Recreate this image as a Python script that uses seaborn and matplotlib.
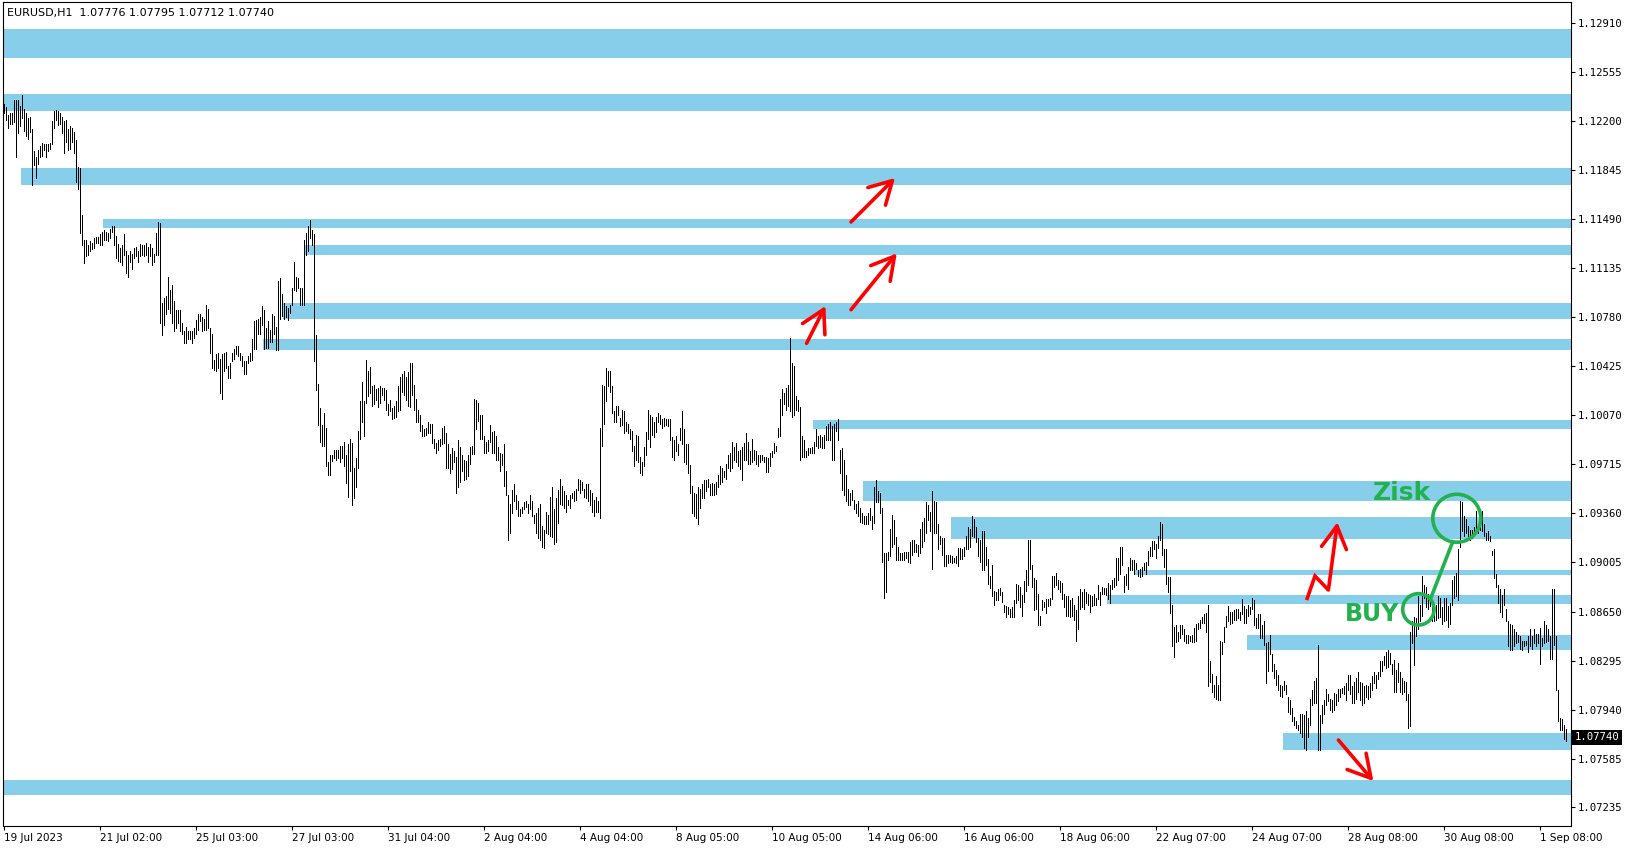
import numpy as np
import pandas as pd
import seaborn as sns
import matplotlib.pyplot as plt
from matplotlib.patches import Ellipse

# EURUSD H1 bars (19 Jul - 1 Sep 2023)
# stored as pips above 1.0700 -> price = 1.07 + pips / 10000
high_pips = [
    532, 530, 524, 526, 526, 535, 535, 535, 531, 539,
    529, 526, 522, 523, 514, 498, 494, 499, 502, 504,
    503, 503, 503, 504, 520, 527, 528, 527, 526, 523,
    520, 521, 514, 516, 515, 512, 506, 487, 486, 452,
    434, 434, 430, 433, 432, 435, 436, 436, 438, 440,
    441, 440, 439, 442, 444, 444, 437, 431, 428, 430,
    438, 426, 423, 426, 424, 428, 429, 426, 431, 430,
    430, 432, 429, 431, 428, 424, 439, 447, 446, 388,
    392, 393, 407, 398, 401, 390, 383, 383, 383, 374,
    368, 371, 368, 368, 368, 370, 376, 380, 380, 378,
    377, 387, 384, 370, 366, 347, 351, 352, 348, 351,
    352, 353, 343, 345, 352, 355, 357, 357, 352, 350,
    346, 346, 350, 352, 362, 375, 376, 377, 378, 386,
    383, 370, 375, 369, 380, 379, 371, 404, 406, 395,
    388, 386, 385, 387, 399, 418, 407, 406, 399, 399,
    434, 439, 444, 448, 441, 438, 365, 330, 312, 300,
    309, 298, 273, 278, 278, 282, 282, 282, 285, 285,
    288, 278, 286, 290, 287, 269, 276, 296, 317, 331,
    317, 347, 339, 342, 328, 329, 326, 327, 328, 327,
    327, 325, 315, 318, 312, 314, 317, 328, 335, 337,
    339, 335, 338, 345, 345, 329, 319, 311, 307, 300,
    297, 298, 302, 301, 301, 290, 287, 289, 290, 298,
    299, 294, 286, 279, 283, 281, 277, 289, 284, 278,
    275, 274, 278, 284, 285, 319, 318, 316, 307, 307,
    292, 288, 289, 300, 295, 296, 292, 284, 280, 279,
    286, 267, 249, 243, 253, 257, 249, 245, 239, 241,
    244, 245, 243, 249, 245, 235, 236, 240, 243, 227,
    224, 237, 235, 248, 255, 239, 247, 253, 261, 256,
    252, 249, 246, 249, 251, 252, 254, 261, 260, 259,
    254, 257, 257, 253, 251, 246, 248, 245, 298, 329,
    328, 341, 339, 339, 328, 310, 314, 314, 305, 311,
    310, 302, 301, 297, 296, 285, 293, 292, 277, 273,
    284, 295, 311, 307, 306, 302, 306, 309, 307, 304,
    305, 304, 304, 304, 291, 289, 292, 286, 298, 310,
    297, 286, 286, 271, 256, 251, 250, 255, 254, 257,
    260, 260, 261, 257, 258, 257, 259, 264, 270, 269,
    267, 272, 278, 280, 288, 284, 287, 281, 282, 284,
    287, 294, 288, 281, 290, 282, 281, 278, 278, 278,
    277, 277, 276, 280, 281, 287, 285, 298, 319, 326,
    323, 327, 329, 363, 345, 343, 321, 318, 313, 292,
    289, 281, 283, 283, 284, 288, 297, 292, 293, 291,
    293, 299, 301, 302, 299, 301, 302, 304, 282, 283,
    275, 264, 254, 251, 253, 246, 243, 245, 240, 236,
    234, 234, 236, 240, 234, 255, 260, 252, 251, 240,
    207, 207, 208, 225, 235, 231, 219, 212, 207, 207,
    208, 208, 208, 215, 217, 217, 214, 213, 225, 230,
    233, 244, 242, 237, 252, 245, 244, 228, 220, 218,
    218, 206, 206, 206, 205, 204, 205, 211, 211, 210,
    212, 220, 226, 225, 234, 232, 226, 218, 217, 223,
    223, 212, 203, 191, 199, 180, 179, 181, 182, 179,
    170, 169, 168, 167, 168, 173, 185, 184, 183, 177,
    187, 195, 217, 217, 199, 189, 188, 178, 162, 173,
    172, 174, 174, 175, 191, 191, 193, 188, 187, 186,
    178, 176, 176, 173, 175, 170, 166, 176, 181, 179,
    181, 179, 178, 177, 176, 178, 175, 184, 179, 183,
    182, 182, 186, 184, 188, 189, 204, 204, 212, 212,
    191, 192, 197, 204, 202, 202, 200, 195, 196, 197,
    200, 201, 209, 212, 216, 216, 214, 220, 230, 228,
    210, 210, 190, 190, 170, 154, 155, 150, 155, 155,
    152, 148, 148, 147, 148, 153, 156, 157, 159, 161,
    163, 164, 170, 129, 120, 112, 118, 112, 144, 143,
    154, 162, 169, 165, 165, 166, 167, 167, 165, 174,
    169, 167, 170, 168, 175, 173, 160, 163, 163, 155,
    158, 142, 143, 148, 134, 127, 123, 119, 112, 111,
    115, 112, 103, 101, 95, 89, 86, 83, 91, 91,
    90, 93, 88, 102, 108, 115, 117, 141, 90, 97,
    101, 109, 105, 102, 101, 106, 105, 109, 109, 110,
    111, 113, 119, 119, 111, 114, 117, 121, 114, 113,
    111, 112, 111, 113, 118, 121, 119, 121, 129, 129,
    133, 136, 137, 135, 127, 130, 123, 128, 121, 117,
    115, 114, 105, 150, 158, 161, 160, 176, 170, 191,
    184, 183, 178, 176, 169, 165, 170, 176, 175, 168,
    175, 175, 169, 171, 188, 191, 193, 210, 245, 244,
    234, 232, 227, 224, 224, 226, 238, 228, 237, 238,
    228, 222, 223, 220, 209, 210, 192, 184, 181, 177,
    181, 167, 158, 156, 155, 152, 150, 148, 147, 144,
    144, 144, 147, 152, 147, 152, 149, 149, 153, 146,
    158, 155, 152, 147, 181, 181, 147, 108, 88, 87,
    83, 80,
]
low_pips = [
    526, 521, 515, 518, 518, 519, 494, 511, 516, 522,
    513, 509, 507, 512, 474, 488, 479, 489, 494, 495,
    499, 494, 498, 500, 503, 515, 521, 517, 518, 511,
    497, 505, 499, 500, 505, 497, 476, 471, 439, 430,
    417, 422, 423, 426, 427, 428, 432, 432, 430, 430,
    434, 434, 433, 435, 440, 430, 421, 419, 418, 416,
    423, 410, 407, 418, 413, 421, 422, 418, 422, 423,
    422, 423, 418, 422, 416, 418, 423, 423, 374, 365,
    372, 380, 384, 381, 374, 368, 370, 374, 368, 366,
    359, 359, 362, 362, 359, 363, 366, 369, 375, 368,
    369, 369, 370, 352, 341, 340, 339, 341, 323, 319,
    339, 341, 334, 334, 346, 348, 351, 350, 347, 343,
    337, 337, 345, 346, 347, 355, 355, 366, 366, 372,
    355, 356, 356, 360, 360, 366, 354, 354, 377, 379,
    377, 378, 376, 381, 387, 398, 397, 399, 387, 387,
    387, 423, 426, 435, 430, 346, 325, 300, 288, 285,
    285, 270, 264, 264, 274, 276, 275, 276, 273, 276,
    270, 258, 248, 267, 242, 247, 255, 269, 290, 302,
    292, 316, 321, 323, 314, 315, 318, 313, 316, 322,
    318, 311, 307, 310, 304, 305, 306, 310, 311, 324,
    322, 318, 314, 313, 322, 311, 302, 302, 296, 292,
    292, 293, 294, 294, 287, 283, 280, 282, 285, 286,
    287, 269, 269, 265, 268, 273, 251, 255, 259, 267,
    260, 261, 263, 272, 279, 279, 297, 303, 290, 290,
    280, 280, 281, 288, 280, 280, 275, 275, 267, 271,
    256, 249, 217, 222, 236, 245, 239, 234, 234, 236,
    239, 241, 236, 239, 234, 229, 222, 218, 217, 212,
    211, 222, 221, 220, 219, 214, 215, 229, 243, 242,
    240, 237, 242, 240, 247, 245, 246, 253, 251, 253,
    248, 247, 245, 242, 237, 234, 237, 237, 233, 285,
    301, 317, 328, 324, 309, 302, 302, 307, 299, 300,
    294, 296, 294, 290, 281, 270, 275, 273, 265, 264,
    270, 278, 290, 284, 293, 291, 295, 302, 301, 298,
    299, 300, 299, 289, 277, 275, 281, 278, 289, 286,
    273, 272, 265, 251, 236, 234, 233, 228, 240, 247,
    247, 252, 255, 249, 249, 249, 250, 255, 257, 259,
    262, 261, 269, 267, 269, 275, 273, 270, 268, 260,
    275, 275, 272, 272, 273, 275, 272, 270, 273, 275,
    273, 266, 266, 270, 277, 280, 281, 291, 292, 307,
    315, 311, 314, 310, 306, 307, 311, 310, 275, 277,
    277, 277, 278, 280, 280, 280, 285, 283, 284, 283,
    283, 289, 289, 289, 275, 275, 296, 289, 265, 253,
    249, 245, 242, 242, 246, 239, 236, 234, 230, 229,
    228, 228, 228, 231, 225, 229, 244, 244, 236, 201,
    175, 179, 202, 205, 212, 214, 202, 202, 202, 202,
    202, 204, 201, 200, 206, 208, 208, 205, 207, 212,
    216, 222, 231, 223, 196, 222, 222, 210, 214, 206,
    198, 198, 200, 201, 200, 201, 200, 198, 203, 203,
    205, 210, 210, 212, 220, 219, 215, 205, 201, 195,
    195, 199, 185, 182, 176, 170, 173, 173, 177, 172,
    165, 161, 163, 161, 161, 161, 171, 173, 168, 162,
    172, 180, 184, 196, 183, 166, 167, 155, 155, 166,
    168, 164, 169, 170, 174, 183, 184, 181, 179, 174,
    168, 162, 162, 161, 162, 159, 144, 152, 167, 168,
    167, 171, 170, 165, 169, 170, 170, 174, 170, 178,
    178, 177, 174, 171, 181, 183, 184, 188, 192, 199,
    179, 184, 181, 195, 195, 192, 196, 191, 190, 191,
    195, 192, 199, 205, 205, 210, 204, 211, 217, 206,
    197, 185, 179, 164, 140, 132, 143, 144, 146, 149,
    144, 142, 142, 144, 143, 143, 144, 152, 153, 157,
    157, 150, 111, 114, 107, 103, 102, 101, 101, 134,
    143, 154, 158, 156, 157, 159, 159, 160, 159, 163,
    157, 157, 162, 163, 167, 155, 153, 153, 146, 146,
    141, 113, 122, 134, 122, 117, 112, 108, 104, 103,
    108, 105, 92, 91, 86, 83, 81, 79, 77, 74,
    66, 65, 74, 83, 97, 99, 99, 65, 65, 84,
    91, 97, 100, 94, 92, 94, 97, 100, 103, 106,
    105, 101, 108, 105, 99, 99, 102, 107, 101, 97,
    99, 103, 102, 103, 108, 113, 110, 116, 118, 122,
    126, 124, 125, 127, 120, 107, 107, 114, 107, 105,
    107, 101, 81, 82, 142, 126, 147, 152, 158, 162,
    175, 168, 167, 169, 158, 158, 159, 160, 161, 156,
    158, 159, 154, 156, 170, 175, 176, 173, 212, 223,
    220, 222, 218, 217, 218, 220, 224, 222, 224, 223,
    220, 217, 217, 216, 206, 189, 183, 171, 165, 161,
    170, 158, 140, 137, 137, 140, 142, 143, 138, 137,
    140, 141, 136, 140, 138, 142, 140, 142, 127, 140,
    142, 143, 144, 131, 131, 141, 108, 86, 79, 79,
    73, 71,
]

date_labels = ['19 Jul 2023', '21 Jul 02:00', '25 Jul 03:00', '27 Jul 03:00',
               '31 Jul 04:00', '2 Aug 04:00', '4 Aug 04:00', '8 Aug 05:00',
               '10 Aug 05:00', '14 Aug 06:00', '16 Aug 06:00', '18 Aug 06:00',
               '22 Aug 07:00', '24 Aug 07:00', '28 Aug 08:00', '30 Aug 08:00',
               '1 Sep 08:00']
price_ticks = [1.12910, 1.12555, 1.12200, 1.11845, 1.11490, 1.11135, 1.10780,
               1.10425, 1.10070, 1.09715, 1.09360, 1.09005, 1.08650, 1.08295,
               1.07940, 1.07585, 1.07235]
last_bar = ['1.07776', '1.07795', '1.07712', '1.07740']

# support / resistance zones: first bar, bottom, top
zone_start = [-5, -5, 8.5, 49.5, 150.5, 139.5, 129.5, 404.5, 429.5, 473.5,
              565.5, 551.5, 621.5, 639.5, -5]
zone_low = [1.12659, 1.12275, 1.11734, 1.11429, 1.11229, 1.10770, 1.10543,
            1.09971, 1.09450, 1.09175, 1.08913, 1.08701, 1.08372, 1.07651, 1.07322]
zone_high = [1.12867, 1.12397, 1.11856, 1.11491, 1.11303, 1.10880, 1.10621,
             1.10033, 1.09598, 1.09332, 1.08948, 1.08772, 1.08478, 1.07768, 1.07431]

# hand drawn marks (bar index, price)
arrow_tail = [(423.5, 1.11469), (423.5, 1.10834), (401.3, 1.10591),
              (662.2, 1.08806), (667.2, 1.07720)]
arrow_tip = [(445.5, 1.11787), (446.4, 1.11242), (410.7, 1.10861),
             (666.7, 1.09296), (684.7, 1.07423)]
zigzag_x = [651.3, 655.5, 662.2]
zigzag_y = [1.08733, 1.08907, 1.08806]
circle_center = [(726.4, 1.09325), (707.2, 1.08666)]
circle_r_px = [24, 15.7]
link_x = [713.0, 724.7]
link_y = [1.08733, 1.09167]

assert len(high_pips) == len(low_pips)

sns.set_theme(style='white')
plt.rcParams['font.family'] = ['DejaVu Sans']

W, H = 1635, 850
fig = plt.figure(figsize=(W / 100, H / 100), dpi=100)
ax = fig.add_axes([2.5 / W, 1 - 826 / H, 1568.5 / W, 824.3 / H])
x0, x1 = -0.75, 783.5
y0, y1 = 1.07098, 1.13063

for s, lo, hi in zip(zone_start, zone_low, zone_high):
    ax.fill_between([s, x1 + 5], lo, hi, color='#87ceeb', lw=0, zorder=1)

n = len(high_pips)
bars = pd.DataFrame({
    'bar': np.repeat(np.arange(n), 2),
    'price': 1.07 + np.column_stack([low_pips, high_pips]).ravel() / 10000,
})
sns.lineplot(data=bars, x='bar', y='price', units='bar', estimator=None,
             color='black', linewidth=0.66, antialiased=False, ax=ax, zorder=3)

red = '#ff0000'
green = '#22b14c'
ax.plot(zigzag_x, zigzag_y, color=red, lw=2.6, zorder=5,
        solid_capstyle='butt', solid_joinstyle='miter')
for t, h in zip(arrow_tail, arrow_tip):
    ax.annotate('', xy=h, xytext=t, zorder=5,
                arrowprops=dict(arrowstyle='->,head_length=0.8,head_width=0.45',
                                color=red, lw=2.6, mutation_scale=20,
                                shrinkA=0, shrinkB=0))

px_bar = 1568.5 / (x1 - x0)
px_price = 824.3 / (y1 - y0)
for (cx, cy), r in zip(circle_center, circle_r_px):
    ax.add_patch(Ellipse((cx, cy), 2 * r / px_bar, 2 * r / px_price,
                         fill=False, ec=green, lw=2.6, zorder=6))
ax.plot(link_x, link_y, color=green, lw=2.6, zorder=6, solid_capstyle='butt')
ax.text(698.8, 1.09511, 'Zisk', color=green, fontsize=18, fontweight='heavy',
        family=['DejaVu Sans'], ha='center', va='center', zorder=6)
ax.text(683.8, 1.08630, 'BUY', color=green, fontsize=17, fontweight='heavy',
        family=['DejaVu Sans'], ha='center', va='center', zorder=6)

ax.set_xlim(x0, x1)
ax.set_ylim(y0, y1)
ax.set_xlabel('')
ax.set_ylabel('')
ax.set_xticks(np.arange(0, 48 * len(date_labels), 48))
ax.set_xticklabels(date_labels, ha='left', fontsize=7.5)
ax.yaxis.tick_right()
ax.set_yticks(price_ticks)
ax.set_yticklabels([f'{p:.5f}' for p in price_ticks], fontsize=7.7,
                   family='DejaVu Sans Mono')
ax.tick_params(axis='x', bottom=True, direction='out', length=3, width=0.8,
               color='black', labelcolor='black', pad=2)
ax.tick_params(axis='y', right=True, left=False, direction='out', length=3,
               width=0.8, color='black', labelcolor='black', pad=2)
for sp in ax.spines.values():
    sp.set_visible(True)
    sp.set_color('black')
    sp.set_linewidth(0.8)

ax.annotate(last_bar[3], xy=(1, 1.07740), xycoords=('axes fraction', 'data'),
            xytext=(2.5, 0), textcoords='offset points', ha='left', va='center',
            color='white', fontsize=7.7, family='DejaVu Sans Mono',
            bbox=dict(boxstyle='square,pad=0.25', fc='black', ec='none'),
            annotation_clip=False)

fig.text(7 / W, 1 - 12.7 / H, 'EURUSD,H1  ' + ' '.join(last_bar), fontsize=8,
         ha='left', va='center', color='black')

fig.savefig('out.png', dpi=100, facecolor='white')
